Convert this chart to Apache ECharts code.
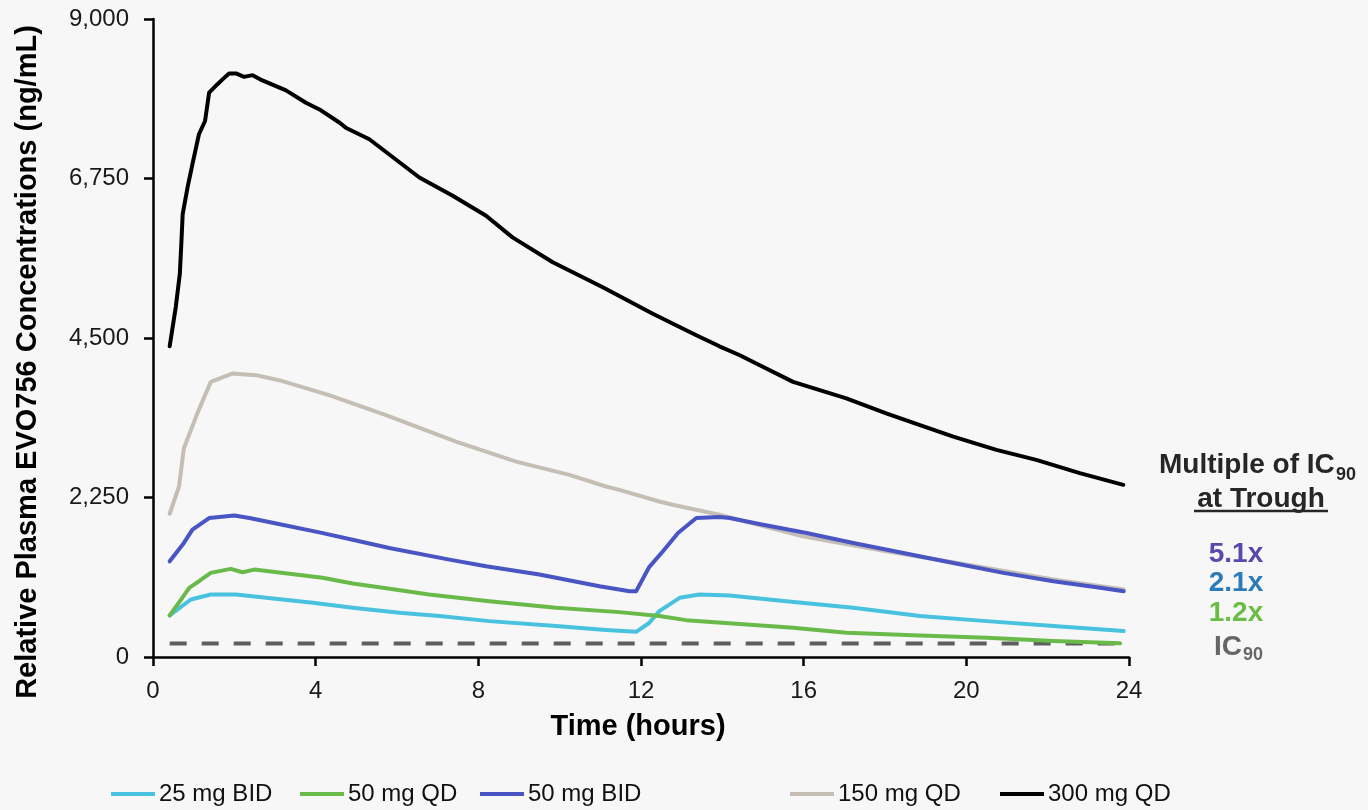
<!DOCTYPE html>
<html>
<head>
<meta charset="utf-8">
<script src="https://cdn.jsdelivr.net/npm/echarts@6/dist/echarts.min.js"></script>
<style>
html,body{margin:0;padding:0;background:#f7f7f7;}
#c{width:1368px;height:810px;}
</style>
</head>
<body>
<div id="c"></div>
<script>
// ---- data (hours, ng/mL) ----
const xTicks = [0, 4, 8, 12, 16, 20, 24];
const yTicks = [0, 2250, 4500, 6750, 9000];
const seriesNames = ['25 mg BID', '50 mg QD', '50 mg BID', '150 mg QD', '300 mg QD'];
const ic90 = 190;
const ic90Span = [0.41, 24];

const t25BID = [0.41, 0.93, 1.42, 2.04, 2.78, 3.93, 4.91, 6.06, 7.04, 8.27, 9.91, 11.14, 11.88, 12.2, 12.45, 12.95, 13.44, 14.18, 15.57, 17.22, 18.86, 20.5, 22.14, 23.87];
const v25BID = [586, 811, 882, 882, 835, 765, 695, 624, 577, 506, 436, 380, 355, 480, 647, 835, 882, 868, 788, 695, 577, 506, 436, 366];

const t50QD = [0.41, 0.72, 0.89, 1.13, 1.42, 1.91, 2.2, 2.49, 4.17, 4.91, 5.65, 6.79, 8.27, 9.91, 11.47, 12.45, 13.11, 15.74, 17.05, 18.86, 20.5, 22.14, 23.78];
const v50QD = [586, 835, 976, 1069, 1187, 1243, 1195, 1233, 1117, 1036, 976, 882, 788, 695, 633, 577, 520, 413, 343, 305, 273, 225, 193];

const t50BID = [0.41, 0.76, 0.97, 1.38, 2.0, 2.37, 3.18, 4.09, 4.91, 5.81, 7.29, 8.19, 9.5, 10.98, 11.72, 11.88, 12.2, 12.54, 12.91, 13.36, 13.93, 14.18, 15.0, 16.07, 17.22, 18.45, 19.68, 20.91, 22.14, 23.29, 23.87];
const v50BID = [1350, 1609, 1796, 1960, 1997, 1960, 1866, 1758, 1655, 1538, 1374, 1280, 1163, 998, 928, 928, 1268, 1491, 1749, 1960, 1975, 1960, 1866, 1749, 1609, 1468, 1327, 1187, 1069, 976, 928];

const t150QD = [0.41, 0.64, 0.76, 1.09, 1.42, 1.95, 2.53, 3.1, 4.33, 5.73, 7.45, 8.93, 10.24, 11.14, 11.47, 12.45, 12.78, 13.93, 15.98, 18.03, 20.0, 22.14, 23.87];
const v150QD = [2021, 2405, 2945, 3437, 3881, 3999, 3976, 3905, 3694, 3413, 3038, 2756, 2569, 2405, 2358, 2194, 2147, 2007, 1702, 1491, 1304, 1093, 952];

const t300QD = [0.41, 0.56, 0.66, 0.70, 0.73, 0.85, 0.97, 1.13, 1.28, 1.38, 1.58, 1.71, 1.87, 2.04, 2.24, 2.45, 2.69, 3.27, 3.76, 4.13, 4.59, 4.74, 5.32, 6.55, 7.37, 8.19, 8.84, 9.83, 11.06, 12.29, 13.36, 13.93, 14.43, 14.92, 15.74, 17.05, 18.03, 18.86, 19.68, 20.74, 21.72, 22.79, 23.86];
const v300QD = [4383, 4936, 5406, 5874, 6249, 6624, 6952, 7374, 7561, 7960, 8077, 8148, 8232, 8232, 8184, 8208, 8134, 7993, 7819, 7712, 7537, 7467, 7304, 6764, 6507, 6225, 5920, 5569, 5217, 4843, 4538, 4383, 4257, 4116, 3881, 3648, 3437, 3272, 3108, 2921, 2780, 2593, 2429];

const multipleLabels = ['5.1x', '2.1x', '1.2x'];

// ---- styles ----
const FONT = "'Liberation Sans', Arial, Helvetica, sans-serif";
const colors = ['#48c2de', '#6aba4a', '#4a55c4', '#c4beb5', '#000000'];
const multColors = ['#5849ad', '#2b7bb9', '#6bbd46'];

function zip(t, v) { return t.map((x, i) => [x, v[i]]); }
const tSets = [t25BID, t50QD, t50BID, t150QD, t300QD];
const vSets = [v25BID, v50QD, v50BID, v150QD, v300QD];

const series = seriesNames.map((name, i) => ({
  name: name,
  type: 'line',
  data: zip(tSets[i], vSets[i]),
  showSymbol: false,
  symbol: 'none',
  smooth: false,
  z: name === '150 mg QD' ? 1 : 3,
  lineStyle: { color: colors[i], width: 4, cap: 'round', join: 'round' },
  itemStyle: { color: colors[i] }
}));
series.push({
  name: 'IC90',
  type: 'line',
  data: ic90Span.map(x => [x, ic90]),
  showSymbol: false,
  symbol: 'none',
  z: 2,
  lineStyle: { color: '#5e5e5e', width: 4, type: [17, 15], cap: 'butt' }
});

const legendLefts = [111, 300, 480, 790, 1000];
const legends = seriesNames.map((name, i) => ({
  data: [name],
  left: legendLefts[i],
  top: 782,
  icon: 'rect',
  itemWidth: 44,
  itemHeight: 4,
  itemGap: 4,
  padding: 0,
  selectedMode: false,
  textStyle: { fontSize: 24, color: '#111', fontFamily: FONT, padding: [0, 0, 0, -1] }
}));

const multY = [554, 583.5, 613];
const graphics = [
  { type: 'text', x: 27.5, y: 362, rotation: Math.PI / 2,
    style: { text: 'Relative Plasma EVO756 Concentrations (ng/mL)', font: 'bold 29px ' + FONT, fill: '#000', align: 'center', verticalAlign: 'middle' } },
  { type: 'text', x: 638, y: 727,
    style: { text: 'Time (hours)', font: 'bold 29px ' + FONT, fill: '#000', align: 'center', verticalAlign: 'middle' } },
  { type: 'text', x: 1159, y: 465,
    style: { text: 'Multiple of IC', font: 'bold 28px ' + FONT, fill: '#262626', align: 'left', verticalAlign: 'middle' } },
  { type: 'text', x: 1336, y: 475,
    style: { text: '90', font: 'bold 18px ' + FONT, fill: '#262626', align: 'left', verticalAlign: 'middle' } },
  { type: 'text', x: 1261, y: 499,
    style: { text: 'at Trough', font: 'bold 28px ' + FONT, fill: '#262626', align: 'center', verticalAlign: 'middle' } },
  { type: 'line', shape: { x1: 1194, y1: 511, x2: 1328, y2: 511 }, style: { stroke: '#262626', lineWidth: 2.5 } },
  { type: 'text', x: 1214, y: 647,
    style: { text: 'IC', font: 'bold 28px ' + FONT, fill: '#666666', align: 'left', verticalAlign: 'middle' } },
  { type: 'text', x: 1243, y: 655,
    style: { text: '90', font: 'bold 18px ' + FONT, fill: '#666666', align: 'left', verticalAlign: 'middle' } }
];
multipleLabels.forEach((s, i) => {
  graphics.push({ type: 'text', x: 1236, y: multY[i],
    style: { text: s, font: 'bold 28px ' + FONT, fill: multColors[i], align: 'center', verticalAlign: 'middle' } });
});

const chart = echarts.init(document.getElementById('c'), null, { renderer: 'canvas' });
chart.setOption({
  backgroundColor: '#f7f7f7',
  animation: false,
  grid: { left: 153, right: 239, top: 19, bottom: 153, containLabel: false },
  xAxis: {
    type: 'value',
    min: xTicks[0], max: xTicks[xTicks.length - 1], interval: xTicks[1] - xTicks[0],
    axisLine: { show: true, onZero: false, lineStyle: { color: '#000', width: 2.5 } },
    axisTick: { show: true, inside: false, length: 9, lineStyle: { color: '#000', width: 2.5 } },
    axisLabel: { margin: 22, fontSize: 24, color: '#1a1a1a', fontFamily: FONT },
    splitLine: { show: false }
  },
  yAxis: {
    type: 'value',
    min: yTicks[0], max: yTicks[yTicks.length - 1], interval: yTicks[1] - yTicks[0],
    axisLine: { show: true, lineStyle: { color: '#000', width: 2.5 } },
    axisTick: { show: true, inside: false, length: 9, lineStyle: { color: '#000', width: 2.5 } },
    axisLabel: { margin: 24, fontSize: 24, color: '#1a1a1a', fontFamily: FONT,
      formatter: v => v.toLocaleString('en-US') },
    splitLine: { show: false }
  },
  legend: legends,
  series: series,
  graphic: graphics
});
</script>
</body>
</html>
